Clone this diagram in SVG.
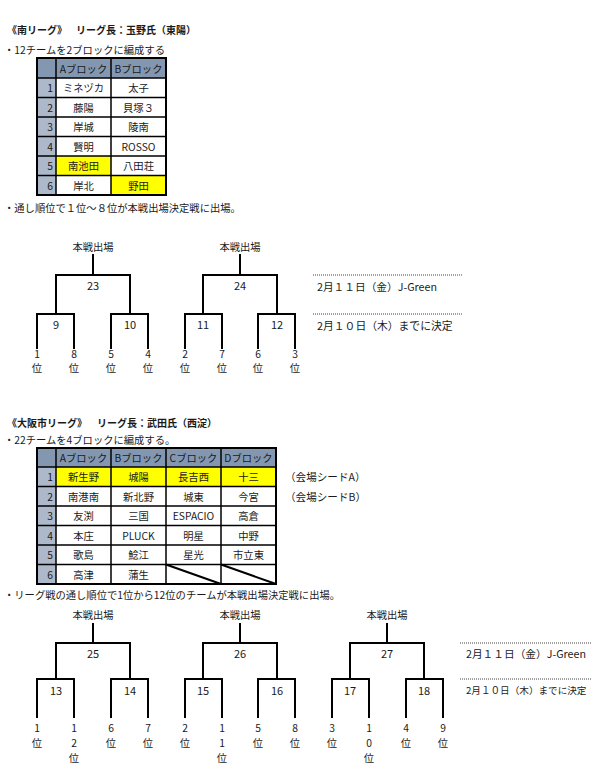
<svg xmlns="http://www.w3.org/2000/svg" width="600" height="775" viewBox="0 0 600 775">
<style>
text{font-family:"Noto Sans CJK JP","Noto Sans",sans-serif;font-size:10.3px;fill:#1a1a1a}
.h{font-weight:bold;font-size:10px}
.c{text-anchor:middle;dominant-baseline:central}
.r{text-anchor:end;dominant-baseline:central}
.m{dominant-baseline:central}
.n{font-size:11px}
.hd{fill:#8497B0}
.rn{fill:#ADB9CA}
.y{fill:#FFFF00}
.w{fill:#FFFFFF}
.g{stroke:#000;stroke-width:1.5;fill:none}
.o{stroke:#000;stroke-width:2;fill:none}
.br{stroke:#000;stroke-width:2;fill:none}
.dot{stroke:#444;stroke-width:1;stroke-dasharray:1 1;fill:none}
</style>
<rect width="600" height="775" fill="#fff"/>

<g id="titles">
<text class="h m" x="7" y="29">《南リーグ》</text>
<text class="h m" x="76" y="29">リーグ長：玉野氏（東陽）</text>
<text class="m" x="4" y="49">・12チームを2ブロックに編成する</text>
<text class="m" x="4" y="207">・通し順位で１位～８位が本戦出場決定戦に出場。</text>
<text class="h m" x="7" y="422">《大阪市リーグ》</text>
<text class="h m" x="97" y="422">リーグ長：武田氏（西淀）</text>
<text class="m" x="4" y="439">・22チームを4ブロックに編成する。</text>
<text class="m" x="4" y="594">・リーグ戦の通し順位で1位から12位のチームが本戦出場決定戦に出場。</text>
</g>

<g id="table1">
<rect class="hd" x="37" y="58" width="129" height="20"/>
<rect class="rn" x="37" y="78" width="19" height="117"/>
<rect class="w" x="56" y="78" width="110" height="117"/>
<rect class="y" x="56" y="156" width="55" height="19.5"/>
<rect class="y" x="111" y="175.5" width="55" height="19.5"/>
<path class="g" d="M56,58V195M111,58V195M37,78H166M37,97.5H166M37,117H166M37,136.5H166M37,156H166M37,175.5H166"/>
<rect class="o" x="37" y="58" width="129" height="137"/>
<text class="c" x="83.5" y="68">Aブロック</text>
<text class="c" x="138.5" y="68">Bブロック</text>
<text class="r" x="53" y="87.75">1</text><text class="c" x="83.5" y="87.75">ミネヅカ</text><text class="c" x="138.5" y="87.75">太子</text>
<text class="r" x="53" y="107.25">2</text><text class="c" x="83.5" y="107.25">藤陽</text><text class="c" x="138.5" y="107.25">貝塚３</text>
<text class="r" x="53" y="126.75">3</text><text class="c" x="83.5" y="126.75">岸城</text><text class="c" x="138.5" y="126.75">陵南</text>
<text class="r" x="53" y="146.25">4</text><text class="c" x="83.5" y="146.25">賢明</text><text class="c" x="138.5" y="146.25">ROSSO</text>
<text class="r" x="53" y="165.75">5</text><text class="c" x="83.5" y="165.75">南池田</text><text class="c" x="138.5" y="165.75">八田荘</text>
<text class="r" x="53" y="185.25">6</text><text class="c" x="83.5" y="185.25">岸北</text><text class="c" x="138.5" y="185.25">野田</text>
</g>

<g id="table2">
<rect class="hd" x="37" y="448" width="239" height="19"/>
<rect class="rn" x="37" y="467" width="19" height="117"/>
<rect class="w" x="56" y="467" width="220" height="117"/>
<rect class="y" x="56" y="467" width="220" height="19.5"/>
<path class="g" d="M56,448V584M111,448V584M166,448V584M221,448V584M37,467H276M37,486.5H276M37,506H276M37,525.5H276M37,545H276M37,564.5H276"/>
<path class="o" d="M166,564.5L221,584M221,564.5L276,584"/>
<rect class="o" x="37" y="448" width="239" height="136"/>
<text class="c" x="83.5" y="457.5">Aブロック</text>
<text class="c" x="138.5" y="457.5">Bブロック</text>
<text class="c" x="193.5" y="457.5">Cブロック</text>
<text class="c" x="248.5" y="457.5">Dブロック</text>
<text class="r" x="53" y="476.75">1</text><text class="c" x="83.5" y="476.75">新生野</text><text class="c" x="138.5" y="476.75">城陽</text><text class="c" x="193.5" y="476.75">長吉西</text><text class="c" x="248.5" y="476.75">十三</text>
<text class="r" x="53" y="496.25">2</text><text class="c" x="83.5" y="496.25">南港南</text><text class="c" x="138.5" y="496.25">新北野</text><text class="c" x="193.5" y="496.25">城東</text><text class="c" x="248.5" y="496.25">今宮</text>
<text class="r" x="53" y="515.75">3</text><text class="c" x="83.5" y="515.75">友渕</text><text class="c" x="138.5" y="515.75">三国</text><text class="c" x="193.5" y="515.75">ESPACIO</text><text class="c" x="248.5" y="515.75">高倉</text>
<text class="r" x="53" y="535.25">4</text><text class="c" x="83.5" y="535.25">本庄</text><text class="c" x="138.5" y="535.25">PLUCK</text><text class="c" x="193.5" y="535.25">明星</text><text class="c" x="248.5" y="535.25">中野</text>
<text class="r" x="53" y="554.75">5</text><text class="c" x="83.5" y="554.75">歌島</text><text class="c" x="138.5" y="554.75">鯰江</text><text class="c" x="193.5" y="554.75">星光</text><text class="c" x="248.5" y="554.75">市立東</text>
<text class="r" x="53" y="574.25">6</text><text class="c" x="83.5" y="574.25">高津</text><text class="c" x="138.5" y="574.25">蒲生</text>
<text class="m" x="285" y="476.5" style="font-size:10.6px">（会場シードA）</text>
<text class="m" x="285" y="496" style="font-size:10.6px">（会場シードB）</text>
</g>

<g id="connectors">
<path class="br" d="M93,254V275M56,314V275H130V314M37,349V314H74V349M111,349V314H148V349"/>
<path class="br" d="M240,254V275M203,314V275H277V314M185,349V314H222V349M258,349V314H295V349"/>
<path class="dot" d="M313,275H462M313,314H462"/>
<path class="br" d="M93,623V643M56,679V643H130V679M37,718V679H74V718M111,718V679H148V718"/>
<path class="br" d="M240,623V643M203,679V643H277V679M185,718V679H222V718M258,718V679H295V718"/>
<path class="br" d="M387,623V643M350,679V643H424V679M332,718V679H369V718M406,718V679H443V718"/>
<path class="dot" d="M460,643H591M460,679H591"/>
</g>

<g id="bracket1">
<text class="c" x="93" y="246">本戦出場</text>
<text class="c" x="240" y="246">本戦出場</text>
<text class="c n" x="93" y="285">23</text>
<text class="c n" x="240" y="285">24</text>
<text class="c n" x="56" y="324">9</text>
<text class="c n" x="130" y="324">10</text>
<text class="c n" x="203" y="324">11</text>
<text class="c n" x="277" y="324">12</text>
<text class="c" x="37" y="353">1</text><text class="c" x="37" y="367">位</text>
<text class="c" x="74" y="353">8</text><text class="c" x="74" y="367">位</text>
<text class="c" x="111" y="353">5</text><text class="c" x="111" y="367">位</text>
<text class="c" x="148" y="353">4</text><text class="c" x="148" y="367">位</text>
<text class="c" x="185" y="353">2</text><text class="c" x="185" y="367">位</text>
<text class="c" x="222" y="353">7</text><text class="c" x="222" y="367">位</text>
<text class="c" x="258" y="353">6</text><text class="c" x="258" y="367">位</text>
<text class="c" x="295" y="353">3</text><text class="c" x="295" y="367">位</text>
<text class="m" x="317" y="286" style="font-size:10.7px">2月１１日（金）J-Green</text>
<text class="m" x="317" y="325" style="font-size:10.8px">2月１０日（木）までに決定</text>
</g>

<g id="bracket2">
<text class="c" x="93" y="614">本戦出場</text>
<text class="c" x="240" y="614">本戦出場</text>
<text class="c" x="387" y="614">本戦出場</text>
<text class="c n" x="93" y="653">25</text>
<text class="c n" x="240" y="653">26</text>
<text class="c n" x="387" y="653">27</text>
<text class="c n" x="56" y="690">13</text>
<text class="c n" x="130" y="690">14</text>
<text class="c n" x="203" y="690">15</text>
<text class="c n" x="277" y="690">16</text>
<text class="c n" x="350" y="690">17</text>
<text class="c n" x="424" y="690">18</text>
<text class="c" x="37" y="727">1</text><text class="c" x="37" y="742">位</text>
<text class="c" x="74" y="727">1</text><text class="c" x="74" y="742">2</text><text class="c" x="74" y="757">位</text>
<text class="c" x="111" y="727">6</text><text class="c" x="111" y="742">位</text>
<text class="c" x="148" y="727">7</text><text class="c" x="148" y="742">位</text>
<text class="c" x="185" y="727">2</text><text class="c" x="185" y="742">位</text>
<text class="c" x="222" y="727">1</text><text class="c" x="222" y="742">1</text><text class="c" x="222" y="757">位</text>
<text class="c" x="258" y="727">5</text><text class="c" x="258" y="742">位</text>
<text class="c" x="295" y="727">8</text><text class="c" x="295" y="742">位</text>
<text class="c" x="332" y="727">3</text><text class="c" x="332" y="742">位</text>
<text class="c" x="369" y="727">1</text><text class="c" x="369" y="742">0</text><text class="c" x="369" y="757">位</text>
<text class="c" x="406" y="727">4</text><text class="c" x="406" y="742">位</text>
<text class="c" x="443" y="727">9</text><text class="c" x="443" y="742">位</text>
<text class="m" x="466" y="653" style="font-size:10.7px">2月１１日（金）J-Green</text>
<text class="m" x="466" y="690" style="font-size:9.6px">2月１０日（木）までに決定</text>
</g>
</svg>
